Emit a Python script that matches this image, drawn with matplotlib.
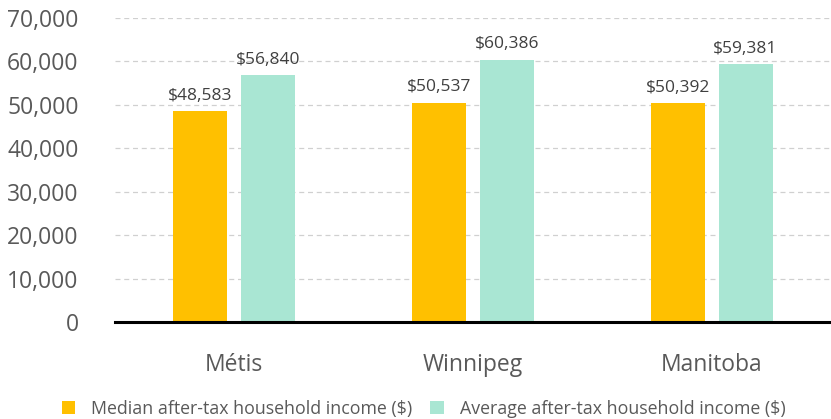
import numpy as np
import matplotlib.pyplot as plt
from matplotlib.ticker import FuncFormatter

plt.rcParams['font.family'] = ['Open Sans', 'DejaVu Sans']

categories = ['Métis', 'Winnipeg', 'Manitoba']
median_income = [48583, 50537, 50392]
average_income = [56840, 60386, 59381]
series_names = ['Median after-tax household income ($)',
                'Average after-tax household income ($)']
yticks = [0, 10000, 20000, 30000, 40000, 50000, 60000, 70000]

orange = '#FFC000'
mint = '#A9E6D3'
grey = '#595959'

fig = plt.figure(figsize=(8.31, 4.19), dpi=100)
ax = fig.add_axes([0.138, 0.2315, 0.862, 0.7255])

x = np.arange(len(categories))
w = 0.226
off = 0.142
b1 = ax.bar(x - off, median_income, w, color=orange, label=series_names[0], zorder=2)
b2 = ax.bar(x + off, average_income, w, color=mint, label=series_names[1], zorder=2)

for bars, vals in ((b1, median_income), (b2, average_income)):
    for r, v in zip(bars, vals):
        ax.text(r.get_x() + r.get_width() / 2, v + 1700, '${:,}'.format(v),
                ha='center', va='bottom', fontsize=12.5, color='#404040')

ax.set_xlim(-0.5, 2.5)
ax.set_ylim(0, 70000)
ax.set_yticks(yticks)
ax.yaxis.set_major_formatter(FuncFormatter(lambda v, p: '{:,}'.format(int(v))))
ax.set_xticks(x)
ax.set_xticklabels(categories)
ax.tick_params(axis='y', length=0, labelsize=16.5, labelcolor=grey, pad=26)
ax.tick_params(axis='x', length=0, labelsize=16.5, labelcolor=grey, pad=22)
ax.grid(axis='y', linestyle=(0, (4, 3)), color='#D0D0D0', lw=0.9, zorder=0)
for s in ('top', 'right', 'left'):
    ax.spines[s].set_visible(False)
ax.spines['bottom'].set_linewidth(2.2)
ax.spines['bottom'].set_color('black')
ax.spines['bottom'].set_zorder(3)

fig.legend(handles=[b1, b2], loc='lower center', bbox_to_anchor=(0.51, -0.035),
           ncol=2, frameon=False, fontsize=12.8, labelcolor=grey,
           handlelength=0.75, handleheight=0.75, columnspacing=1.0, handletextpad=0.9)

fig.savefig('out.png', dpi=100)
